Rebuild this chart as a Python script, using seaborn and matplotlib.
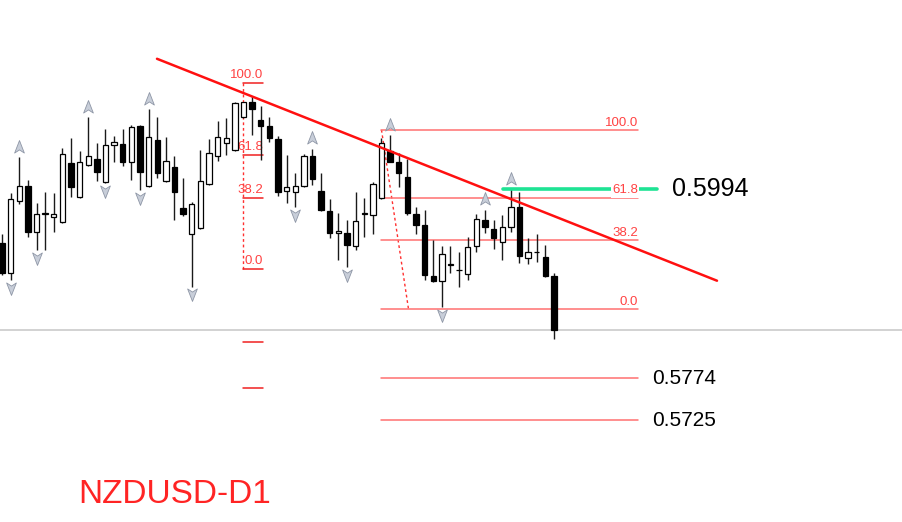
import numpy as np
import pandas as pd
import matplotlib
matplotlib.use('Agg')
import matplotlib.pyplot as plt
from matplotlib.path import Path
import seaborn as sns

# daily candles, NZDUSD
opens = [0.5931, 0.5896, 0.5980, 0.5997, 0.5944, 0.5965, 0.5961, 0.5955, 0.6024, 0.5985,
         0.6022, 0.6029, 0.6002, 0.6045, 0.6046, 0.6026, 0.6067, 0.5997, 0.6051, 0.6003,
         0.6020, 0.5972, 0.5942, 0.5948, 0.6000, 0.6033, 0.6048, 0.6039, 0.6078, 0.6095,
         0.6075, 0.6067, 0.6052, 0.5992, 0.5991, 0.5997, 0.6032, 0.5992, 0.5968, 0.5943,
         0.5943, 0.5928, 0.5965, 0.5964, 0.5983, 0.6038, 0.6025, 0.6008, 0.5965, 0.5952,
         0.5892, 0.5887, 0.5905, 0.5899, 0.5895, 0.5928, 0.5958, 0.5947, 0.5932, 0.5950,
         0.5973, 0.5914, 0.5920, 0.5915, 0.5892]
highs = [0.5941, 0.5989, 0.6031, 0.6005, 0.5978, 0.5991, 0.5989, 0.6042, 0.6053, 0.6038,
         0.6078, 0.6048, 0.6064, 0.6056, 0.6064, 0.6069, 0.6069, 0.6087, 0.6078, 0.6055,
         0.6032, 0.6007, 0.5979, 0.6040, 0.6052, 0.6073, 0.6077, 0.6096, 0.6096, 0.6103,
         0.6091, 0.6078, 0.6056, 0.6034, 0.6013, 0.6035, 0.6041, 0.6013, 0.5982, 0.5966,
         0.5958, 0.5990, 0.5984, 0.6002, 0.6054, 0.6057, 0.6036, 0.6029, 0.5973, 0.5970,
         0.5935, 0.5928, 0.5928, 0.5921, 0.5938, 0.5965, 0.5970, 0.5958, 0.5964, 0.5994,
         0.5990, 0.5937, 0.5942, 0.5929, 0.5896]
lows = [0.5894, 0.5888, 0.5976, 0.5938, 0.5923, 0.5923, 0.5944, 0.5954, 0.5985, 0.5984,
        0.6021, 0.6003, 0.6001, 0.6026, 0.6021, 0.6005, 0.5993, 0.5996, 0.6007, 0.6002,
        0.5958, 0.5962, 0.5880, 0.5947, 0.5999, 0.6027, 0.6034, 0.6038, 0.6077, 0.6057,
        0.6028, 0.6049, 0.5986, 0.5978, 0.5973, 0.5996, 0.5999, 0.5968, 0.5937, 0.5911,
        0.5903, 0.5923, 0.5938, 0.5941, 0.5982, 0.6025, 0.5996, 0.5964, 0.5941, 0.5888,
        0.5886, 0.5856, 0.5896, 0.5880, 0.5888, 0.5921, 0.5943, 0.5924, 0.5911, 0.5944,
        0.5908, 0.5907, 0.5909, 0.5891, 0.5819]
closes = [0.5896, 0.5982, 0.5998, 0.5944, 0.5965, 0.5966, 0.5965, 0.6035, 0.5996, 0.6025,
          0.6033, 0.6014, 0.6045, 0.6049, 0.6025, 0.6066, 0.6014, 0.6055, 0.6013, 0.6027,
          0.5991, 0.5965, 0.5976, 0.6003, 0.6036, 0.6055, 0.6054, 0.6094, 0.6095, 0.6087,
          0.6067, 0.6053, 0.5991, 0.5996, 0.5997, 0.6032, 0.6006, 0.5970, 0.5943, 0.5945,
          0.5929, 0.5957, 0.5966, 0.6000, 0.6048, 0.6026, 0.6013, 0.5966, 0.5952, 0.5894,
          0.5887, 0.5918, 0.5906, 0.5900, 0.5926, 0.5959, 0.5950, 0.5937, 0.5950, 0.5973,
          0.5916, 0.5920, 0.5920, 0.5892, 0.5830]

up_fractals = [2, 10, 17, 36, 45, 56, 59]
down_fractals = [1, 4, 12, 16, 22, 34, 40, 51]

current_price = 0.5830

trend_bars = [17.97, 82.9]
trend_prices = [0.6146, 0.5887]

fib1_bar = 27.94
fib1_end_bar = 30.26
fib1_levels = [0.6118, 0.6034, 0.5984, 0.5901, 0.5815, 0.5762]
fib1_labels = ['100.0', '61.8', '38.2', '0.0', '', '']

fib2_start_bar = 44
fib2_end_bar = 73.74
fib2_anchor_bars = [44, 47.13]
fib2_levels = [0.6063, 0.5984, 0.5934, 0.5854, 0.5774, 0.5725]
fib2_labels = ['100.0', '61.8', '38.2', '0.0', '', '']
target_labels = ['0.5774', '0.5725']

green_bars = [58.09, 75.94]
green_price = 0.5994

sns.set_style('white')
plt.rcParams['font.family'] = ['Liberation Sans', 'DejaVu Sans']

fig = plt.figure(figsize=(9.02, 5.22), dpi=100)
ax = fig.add_axes([0, 0, 1, 1])
ax.set_xlim(-0.232, 104.35)
ax.set_ylim(0.56054, 0.62146)
ax.axis('off')

df = pd.DataFrame({'open': opens, 'high': highs, 'low': lows, 'close': closes})
df['bar'] = np.arange(len(df))
df['bull'] = df.close >= df.open

# current price line
ax.axhline(current_price, color='#c6c6c6', lw=1.1, zorder=1)

# fibo 1 (vertical one)
fib_red = '#ff4242'
ax.plot([fib1_bar, fib1_bar], [fib1_levels[0], fib1_levels[3]], color='#ff3030',
        lw=1, ls=(0, (2, 2)), zorder=2)
for lvl, lab in zip(fib1_levels, fib1_labels):
    ax.plot([fib1_bar, fib1_end_bar], [lvl, lvl], color='#f02020', lw=1.1, zorder=2)
    if lab:
        ax.annotate(lab, (fib1_end_bar, lvl), xytext=(0, 1), textcoords='offset points',
                    ha='right', va='bottom', color=fib_red, fontsize=9.5)

# fibo 2
ax.plot(fib2_anchor_bars, [fib2_levels[0], fib2_levels[3]], color='#ff3030',
        lw=1, ls=(0, (2, 2)), zorder=2)
for lvl, lab in zip(fib2_levels, fib2_labels):
    ax.plot([fib2_start_bar, fib2_end_bar], [lvl, lvl], color='#ff7070', lw=1.1, zorder=2)
    if lab:
        box = dict(boxstyle='square,pad=0.1', fc='white', ec='none') if lab == '61.8' else None
        ax.annotate(lab, (fib2_end_bar, lvl), xytext=(0, 1), textcoords='offset points',
                    ha='right', va='bottom', color=fib_red, fontsize=9.5, zorder=6, bbox=box)
for lvl, lab in zip(fib2_levels[4:], target_labels):
    ax.annotate(lab, (fib2_end_bar, lvl), xytext=(10, -1), textcoords='offset points',
                ha='left', va='center', color='black', fontsize=15)

# green target
ax.plot(green_bars, [green_price, green_price], color='#1ee394', lw=2.6, zorder=5)
ax.annotate(f'{green_price:.4f}', (green_bars[1], green_price), xytext=(11, 0),
            textcoords='offset points', ha='left', va='center', color='black', fontsize=18)

# candles
ax.vlines(df.bar, df.low, df.high, color='#1a1a1a', lw=1, zorder=3)
body = (df.close - df.open).where(lambda s: s.abs() > 1e-6, 0.00001)
ax.bar(df.bar, body, bottom=df.open, width=0.62,
       color=np.where(df.bull, 'white', 'black'), edgecolor='black', lw=0.9, zorder=4)

# fractals
up_path = Path([(0, 1), (0.7, -0.8), (0, -0.35), (-0.7, -0.8), (0, 1)],
               [Path.MOVETO, Path.LINETO, Path.LINETO, Path.LINETO, Path.CLOSEPOLY])
down_path = Path([(0, -1), (0.7, 0.8), (0, 0.35), (-0.7, 0.8), (0, -1)],
                 [Path.MOVETO, Path.LINETO, Path.LINETO, Path.LINETO, Path.CLOSEPOLY])
up_df = pd.DataFrame({'bar': up_fractals, 'y': df.high[up_fractals].values + 0.0012})
down_df = pd.DataFrame({'bar': down_fractals, 'y': df.low[down_fractals].values - 0.0009})
sns.scatterplot(data=up_df, x='bar', y='y', marker=up_path, s=100, color='#c8ced9',
                edgecolor='#8e96a6', linewidth=0.6, ax=ax, zorder=5, legend=False)
sns.scatterplot(data=down_df, x='bar', y='y', marker=down_path, s=100, color='#c8ced9',
                edgecolor='#8e96a6', linewidth=0.6, ax=ax, zorder=5, legend=False)

# trend line
ax.plot(trend_bars, trend_prices, color='#ff1010', lw=1.8, zorder=6)

fig.text(0.0865, 0.052, 'NZDUSD-D1', color='#ff2424', fontsize=24, ha='left', va='center')

ax.set_xlabel('')
ax.set_ylabel('')
fig.savefig('out.png', dpi=100)
